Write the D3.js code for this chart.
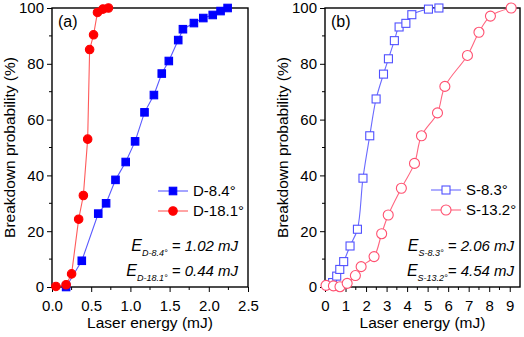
<!DOCTYPE html>
<html>
<head>
<meta charset="utf-8">
<script src="https://cdn.jsdelivr.net/npm/d3@7"></script>
<style>
  body { margin: 0; background: #fff; }
  svg { display: block; font-family: "Liberation Sans", Arial, sans-serif; }
</style>
</head>
<body>
<svg id="target"></svg>
<script>
// panel (a)
const d84X = [0.18, 0.38, 0.59, 0.69, 0.81, 0.94, 1.06, 1.18, 1.30, 1.40, 1.49, 1.61, 1.67, 1.81, 1.93, 2.05, 2.15, 2.24];
const d84Y = [0, 9.4, 26.3, 30.0, 38.4, 44.8, 52.2, 62.6, 68.8, 76.5, 81.0, 88.5, 92.4, 94.6, 96.4, 97.5, 98.9, 100];
const d181X = [0.05, 0.18, 0.25, 0.34, 0.40, 0.455, 0.48, 0.53, 0.58, 0.65, 0.72];
const d181Y = [0.2, 0.8, 4.7, 24.3, 32.8, 53.0, 85.1, 90.4, 98.4, 99.6, 100];
// panel (b)
const s83X = [0.15, 0.37, 0.57, 0.72, 0.91, 1.22, 1.58, 1.85, 2.18, 2.49, 2.85, 3.09, 3.38, 3.61, 3.94, 4.23, 5.04, 5.55];
const s83Y = [0.7, 1.6, 3.9, 6.3, 9.1, 14.7, 20.7, 39.0, 54.2, 67.4, 76.3, 81.8, 88.3, 93.2, 94.5, 97.6, 99.6, 100];
const s132X = [0.05, 0.41, 0.73, 1.08, 1.48, 1.76, 2.39, 2.76, 3.08, 3.72, 4.36, 4.70, 5.48, 5.84, 6.94, 7.50, 8.06, 9.07];
const s132Y = [0.6, 0.4, 0.1, 1.3, 4.1, 7.3, 10.9, 19.1, 25.8, 35.4, 44.3, 54.2, 62.4, 71.9, 83.0, 91.3, 97.1, 100];

const ticksA = [0, 0.5, 1.0, 1.5, 2.0, 2.5];
const ticksB = [0, 1, 2, 3, 4, 5, 6, 7, 8, 9];
const ticksY = [0, 20, 40, 60, 80, 100];

const width = 524, height = 337;
const svg = d3.select('#target').attr('width', width).attr('height', height);

const plotTop = 8, plotBottom = 287;

function panel(opt) {
  const x = d3.scaleLinear().domain(opt.xDomain).range([opt.left, opt.right]);
  const y = d3.scaleLinear().domain([0, 100]).range([plotBottom, plotTop]);
  const g = svg.append('g');

  // frame
  g.append('rect')
    .attr('x', opt.left).attr('y', plotTop)
    .attr('width', opt.right - opt.left).attr('height', plotBottom - plotTop)
    .attr('fill', 'none').attr('stroke', '#000').attr('stroke-width', 1.4);

  // minor ticks
  const yMinor = d3.range(10, 100, 20);
  g.selectAll('.ym').data(yMinor).enter().append('line')
    .attr('x1', opt.left - 3).attr('x2', opt.left)
    .attr('y1', d => y(d)).attr('y2', d => y(d))
    .attr('stroke', '#000');
  g.selectAll('.xm').data(opt.xMinor).enter().append('line')
    .attr('x1', d => x(d)).attr('x2', d => x(d))
    .attr('y1', plotBottom).attr('y2', plotBottom + 3)
    .attr('stroke', '#000');

  const yAxis = g.append('g').attr('transform', `translate(${opt.left},0)`)
    .call(d3.axisLeft(y).tickValues(ticksY).tickSize(5).tickPadding(3).tickSizeOuter(0));
  const xAxis = g.append('g').attr('transform', `translate(0,${plotBottom})`)
    .call(d3.axisBottom(x).tickValues(opt.ticks).tickFormat(opt.fmt).tickSize(5).tickPadding(8).tickSizeOuter(0));
  [yAxis, xAxis].forEach(a => {
    a.select('.domain').remove();
    a.selectAll('text').attr('font-size', 15).attr('fill', '#000')
      .attr('font-family', '"Liberation Sans", Arial, sans-serif');
  });

  // titles
  g.append('text')
    .attr('transform', `translate(${opt.left - 37},${(plotTop + plotBottom) / 2}) rotate(-90)`)
    .attr('text-anchor', 'middle').attr('font-size', 15.5)
    .text('Breakdown probability (%)');
  g.append('text')
    .attr('x', (opt.left + opt.right) / 2).attr('y', 328)
    .attr('text-anchor', 'middle').attr('font-size', 15.5)
    .text('Laser energy (mJ)');
  g.append('text')
    .attr('x', opt.left + 6).attr('y', 27).attr('font-size', 16)
    .text(opt.label);

  const marks = g.append('g');
  opt.series.forEach(s => {
    const pts = s.x.map((v, i) => [v, s.y[i]]);
    marks.append('path')
      .datum(pts)
      .attr('fill', 'none').attr('stroke', s.line).attr('stroke-width', 1.1)
      .attr('d', d3.line().x(d => x(d[0])).y(d => y(d[1])).curve(opt.curve));
    drawMarkers(marks, pts.map(d => [x(d[0]), y(d[1])]), s);
  });

  // legend
  opt.series.forEach((s, i) => {
    const ly = opt.legendY + i * 20;
    g.append('line')
      .attr('x1', opt.legendX).attr('x2', opt.legendX + 30)
      .attr('y1', ly).attr('y2', ly)
      .attr('stroke', s.line).attr('stroke-width', 1.1);
    drawMarkers(g, [[opt.legendX + 15, ly]], s);
    g.append('text')
      .attr('x', opt.legendX + 35).attr('y', ly + 5)
      .attr('font-size', 15)
      .text(s.name);
  });

  // annotations
  opt.notes.forEach((n, i) => {
    const t = g.append('text')
      .attr('x', opt.noteX).attr('y', 251 + i * 25)
      .attr('text-anchor', 'end')
      .attr('font-style', 'italic').attr('font-size', 15);
    t.append('tspan').attr('font-size', 16).text('E');
    t.append('tspan').attr('font-size', 9).attr('dy', 5).text(n.sub);
    t.append('tspan').attr('dy', -5).text(n.rest);
  });
}

function drawMarkers(g, pts, s) {
  if (s.shape === 'square') {
    g.selectAll(null).data(pts).enter().append('rect')
      .attr('x', d => d[0] - s.size / 2).attr('y', d => d[1] - s.size / 2)
      .attr('width', s.size).attr('height', s.size)
      .attr('fill', s.fill).attr('stroke', s.stroke).attr('stroke-width', 1.1);
  } else {
    g.selectAll(null).data(pts).enter().append('circle')
      .attr('cx', d => d[0]).attr('cy', d => d[1]).attr('r', s.size / 2)
      .attr('fill', s.fill).attr('stroke', s.stroke).attr('stroke-width', 1.1);
  }
}

panel({
  left: 52, right: 248, xDomain: [0, 2.5], ticks: ticksA,
  xMinor: d3.range(0.25, 2.5, 0.5), fmt: d3.format('.1f'), label: '(a)',
  curve: d3.curveLinear, legendX: 158, legendY: 191, noteX: 238,
  series: [
    { name: 'D-8.4\u00b0', x: d84X, y: d84Y, shape: 'square', size: 7.5, fill: '#0000ff', stroke: '#0000ff', line: '#5a5aff' },
    { name: 'D-18.1\u00b0', x: d181X, y: d181Y, shape: 'circle', size: 8.5, fill: '#ff0000', stroke: '#ff0000', line: '#ff5a5a' }
  ],
  notes: [{ sub: 'D-8.4\u00b0', rest: ' = 1.02 mJ' }, { sub: 'D-18.1\u00b0', rest: ' = 0.44 mJ' }]
});

panel({
  left: 325, right: 520, xDomain: [0, 9.5], ticks: ticksB,
  xMinor: d3.range(0.5, 9.5, 1), fmt: d3.format('d'), label: '(b)',
  curve: d3.curveCatmullRom, legendX: 431, legendY: 190, noteX: 514,
  series: [
    { name: 'S-8.3\u00b0', x: s83X, y: s83Y, shape: 'square', size: 8, fill: '#fff', stroke: '#5050ff', line: '#6a6aff' },
    { name: 'S-13.2\u00b0', x: s132X, y: s132Y, shape: 'circle', size: 10, fill: '#fff', stroke: '#ff5070', line: '#ff6680' }
  ],
  notes: [{ sub: 'S-8.3\u00b0', rest: ' = 2.06 mJ' }, { sub: 'S-13.2\u00b0', rest: '= 4.54 mJ' }]
});
</script>
</body>
</html>
